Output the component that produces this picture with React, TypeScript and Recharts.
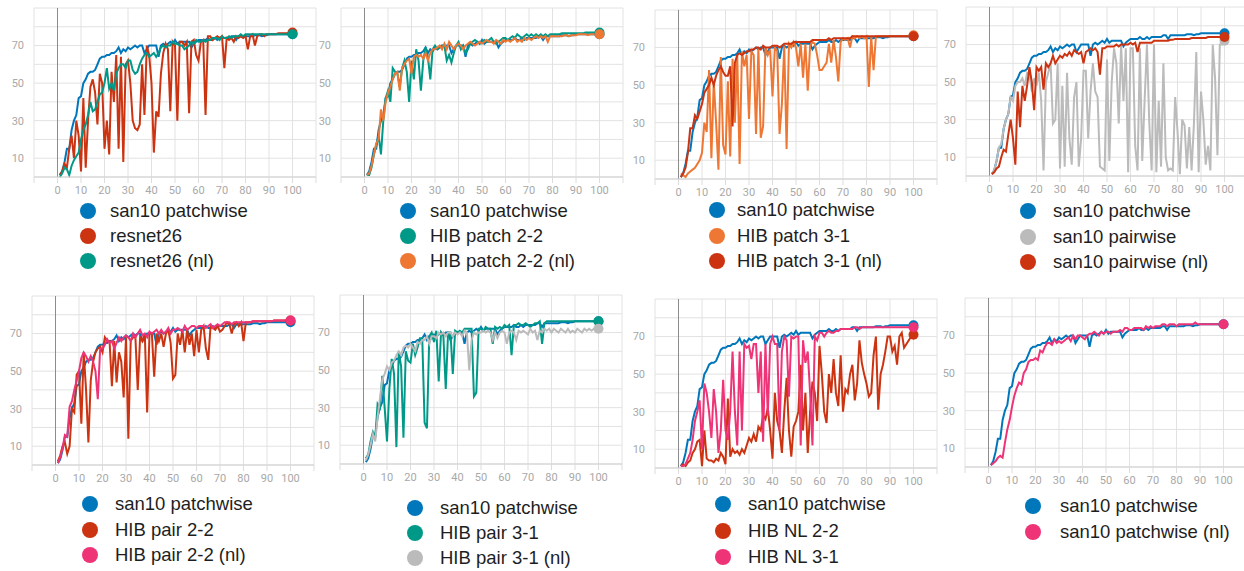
import React from "react";
import { LineChart, Line, XAxis, YAxis, CartesianGrid, ReferenceLine } from "recharts";

// epochs on the x axis
const epochs = [
  1, 2, 3, 4, 5, 6, 7, 8, 9, 10,
  11, 12, 13, 14, 15, 16, 17, 18, 19, 20,
  21, 22, 23, 24, 25, 26, 27, 28, 29, 30,
  31, 32, 33, 34, 35, 36, 37, 38, 39, 40,
  41, 42, 43, 44, 45, 46, 47, 48, 49, 50,
  51, 52, 53, 54, 55, 56, 57, 58, 59, 60,
  61, 62, 63, 64, 65, 66, 67, 68, 69, 70,
  71, 72, 73, 74, 75, 76, 77, 78, 79, 80,
  81, 82, 83, 84, 85, 86, 87, 88, 89, 90,
  91, 92, 93, 94, 95, 96, 97, 98, 99, 100,
];

const xTicks = [-10, 0, 10, 20, 30, 40, 50, 60, 70, 80, 90, 100, 110];
const yTicks = [0, 10, 20, 30, 40, 50, 60, 70, 80, 90];
const yLabels = [10, 30, 50, 70];

// top-1 accuracy per epoch
const san10Patchwise = [
  1, 3, 8, 15, 15, 25, 30, 33, 42, 43,
  50, 52, 55, 56, 56, 57, 60, 63, 64, 64,
  65, 65, 66, 66, 67, 69, 66, 68, 67, 69,
  68, 69, 70, 69, 70, 70, 66, 68, 70, 70,
  70, 70, 64, 70, 71, 70, 71, 72, 71, 73,
  71, 72, 72, 72, 72, 72, 69, 71, 72, 73,
  73, 73, 73, 74, 73, 73, 74, 73, 74, 74,
  74, 74, 74, 75, 75, 73, 75, 75, 75, 75,
  75, 75, 75, 75.5, 75.5, 75.5, 75, 75.5, 75.5, 76,
  76, 76, 76, 76, 76, 76, 76, 76, 76, 76,
];
const san10PatchwiseNl = [
  1, 2, 3, 5, 6, 5, 13, 20, 25, 32,
  38, 42, 45, 44, 50, 52, 56, 57, 57, 58,
  57, 62, 61, 64, 66, 66, 65, 68, 66, 67,
  66, 67, 68, 69, 67, 70, 68, 70, 70, 69,
  68, 70, 71, 71, 72, 71, 70, 72, 71, 72,
  72, 71, 72, 72, 72, 73, 72, 74, 74, 73,
  73, 74, 74, 74, 74, 73, 75, 74, 75, 74,
  75, 75, 75, 76, 76, 75, 76, 76, 76, 75,
  76, 76, 76, 76, 76, 76, 76, 77, 76, 76,
  76, 76, 76, 76, 76, 76, 76, 76, 76, 76,
];
const resnet26 = [
  1, 3, 7, 5, 15, 22, 10, 30, 22, 3,
  42, 5, 30, 48, 52, 45, 28, 55, 50, 15,
  30, 12, 56, 40, 65, 15, 64, 8, 60, 62,
  50, 30, 26, 25, 28, 60, 33, 70, 65, 50,
  13, 35, 32, 55, 66, 71, 68, 35, 72, 70,
  30, 72, 72, 70, 72, 34, 72, 73, 65, 62,
  72, 73, 33, 75, 75, 73, 74, 75, 74, 75,
  58, 74, 73, 74, 72, 75, 74, 75, 74, 75,
  68, 75, 76, 70, 75, 76, 76, 75, 76, 76,
  76, 76, 76, 76.5, 76.5, 76.5, 76.5, 76.5, 77, 77,
];
const resnet26Nl = [
  0, 2, 5, 4, 1, 6, 9, 11, 13, 20,
  25, 28, 33, 40, 35, 36, 40, 44, 45, 50,
  58, 47, 50, 46, 55, 58, 60, 60, 58, 62,
  62, 57, 55, 56, 60, 63, 65, 66, 64, 65,
  66, 64, 66, 69, 70, 69, 70, 70, 72, 71,
  71, 70, 70, 68, 69, 70, 72, 71, 73, 72,
  72, 73, 72, 73, 73, 74, 74, 74, 73, 75,
  74, 74, 75, 74, 75, 75, 75, 76, 75, 76,
  76, 76, 76, 76, 76, 76, 76, 76, 76, 76,
  76, 76, 76, 76, 76, 76, 76, 76, 76, 76,
];
const hibPatch22 = [
  1, 1, 5, 12, 17, 22, 12, 30, 42, 46,
  40, 58, 56, 55, 48, 58, 62, 56, 40, 62,
  52, 68, 62, 46, 62, 69, 64, 52, 68, 70,
  68, 69, 70, 70, 62, 65, 61, 66, 70, 72,
  68, 70, 66, 68, 71, 72, 73, 72, 71, 72,
  73, 72, 73, 74, 72, 71, 72, 73, 74, 74,
  73, 74, 75, 74, 76, 75, 74, 75, 76, 75,
  76, 75, 76, 75, 76, 75, 76, 75, 76, 76,
  76, 76, 76, 76.5, 76.5, 76.5, 76.5, 76.5, 76.5, 76.5,
  76.5, 76.5, 76.5, 77, 77, 77, 77, 77, 77, 77,
];
const hibPatch22Nl = [
  1, 2, 6, 12, 18, 20, 36, 30, 40, 45,
  48, 52, 55, 56, 46, 58, 60, 62, 63, 55,
  64, 65, 64, 65, 63, 66, 62, 66, 68, 68,
  69, 70, 68, 71, 68, 72, 70, 68, 70, 71,
  70, 68, 70, 71, 72, 71, 70, 71, 72, 71,
  72, 73, 72, 72, 71, 73, 72, 71, 73, 72,
  73, 72, 73, 74, 72, 73, 72, 74, 73, 74,
  73, 74, 75, 74, 75, 74, 75, 72, 75, 75,
  75, 75, 75, 75, 75.5, 75.5, 75, 75.5, 75.5, 75.5,
  76, 76, 76, 76, 75.5, 76, 76, 76, 75.5, 76,
];
const hibPatch31 = [
  3, 2, 1, 3, 4, 5, 6, 8, 10, 14,
  30, 25, 58, 11, 52, 30, 5, 65, 18, 13,
  52, 12, 64, 30, 66, 8, 68, 60, 66, 32,
  68, 66, 24, 70, 22, 28, 70, 66, 69, 44,
  70, 68, 24, 40, 71, 16, 72, 70, 73, 70,
  60, 72, 54, 72, 47, 71, 73, 72, 66, 58,
  58, 60, 62, 72, 62, 74, 65, 52, 73, 75,
  74, 75, 70, 76, 75, 76, 75, 76, 75, 76,
  49, 76, 58, 76, 76, 76, 76, 76, 76, 76,
  76, 76, 76, 76, 76, 76, 76, 76, 76, 76.5,
];
const hibPatch31Nl = [
  1, 3, 6, 14, 27, 27, 34, 32, 36, 40,
  46, 48, 50, 54, 50, 55, 58, 60, 57, 55,
  55, 60, 28, 62, 66, 67, 66, 67, 68, 68,
  69, 69, 70, 70, 69, 71, 70, 70, 70, 71,
  71, 71, 70, 71, 72, 72, 72, 72, 73, 73,
  73, 73, 73, 73, 73, 73, 74, 74, 74, 74,
  74, 74, 74, 75, 74, 75, 75, 75, 75, 75,
  75, 75, 75, 76, 76, 76, 76, 76, 76, 76,
  76, 76, 76, 76, 76, 76, 76, 76, 76, 76,
  76, 76, 76, 76, 76, 76, 76, 76, 76, 76,
];
const san10Pairwise = [
  1, 3, 8, 15, 17, 25, 30, 33, 42, 40,
  48, 50, 50, 52, 48, 55, 54, 45, 52, 48,
  55, 40, 3, 50, 55, 60, 28, 30, 60, 4,
  48, 5, 55, 20, 6, 42, 50, 5, 20, 56,
  56, 20, 45, 60, 45, 42, 5, 4, 3, 62,
  8, 50, 68, 60, 28, 70, 40, 68, 2, 68,
  68, 16, 3, 68, 8, 40, 70, 28, 3, 70,
  2, 40, 5, 60, 10, 3, 4, 3, 42, 24,
  1, 30, 27, 4, 26, 3, 28, 66, 2, 45,
  30, 6, 16, 3, 70, 52, 11, 70, 70, 72,
];
const san10PairwiseNl = [
  1, 2, 4, 5, 10, 14, 13, 22, 30, 20,
  6, 45, 26, 48, 40, 48, 58, 50, 35, 58,
  56, 58, 46, 60, 58, 60, 64, 60, 62, 64,
  63, 65, 64, 66, 64, 67, 66, 65, 66, 60,
  66, 67, 68, 67, 68, 66, 54, 68, 68, 69,
  69, 69, 69, 70, 69, 70, 70, 70, 70, 71,
  70, 71, 66, 71, 71, 71, 71, 71, 71, 72,
  72, 72, 72, 72, 72, 72, 72.5, 72.5, 73, 73,
  73, 73, 73, 73, 73, 73.5, 73.5, 73.5, 73.5, 73.5,
  73.5, 73.5, 74, 74, 74, 74, 74, 74, 74, 74,
];
const hibPair22 = [
  2, 5, 10, 12, 6, 10, 30, 28, 48, 50,
  22, 60, 40, 12, 45, 55, 60, 62, 63, 60,
  68, 66, 66, 42, 66, 44, 60, 55, 36, 68,
  14, 66, 68, 68, 40, 68, 66, 70, 28, 70,
  70, 47, 70, 66, 70, 63, 70, 72, 65, 46,
  48, 70, 64, 72, 60, 72, 64, 70, 58, 72,
  60, 72, 74, 62, 56, 74, 73, 72, 74, 71,
  72, 74, 76, 75, 70, 75, 76, 74, 76, 66,
  76, 76, 76, 76.5, 76.5, 76.5, 76.5, 76.5, 76.5, 76.5,
  76.5, 76.5, 77, 77, 77, 77, 77, 77, 77, 77,
];
const hibPair22Nl = [
  1, 4, 9, 16, 15, 31, 34, 40, 45, 50,
  57, 60, 58, 55, 58, 55, 50, 35, 62, 62,
  64, 67, 65, 66, 62, 65, 68, 66, 68, 69,
  68, 66, 70, 68, 70, 72, 69, 70, 68, 71,
  70, 71, 72, 70, 72, 70, 71, 73, 70, 72,
  72, 73, 72, 71, 74, 72, 73, 74, 74, 73,
  74, 74, 74, 73, 74, 75, 73, 74, 75, 74,
  75, 76, 76, 76, 75, 76, 76, 76, 76, 76,
  76, 76, 76, 76.5, 76.5, 76.5, 76.5, 76.5, 76.5, 76.5,
  76.5, 76.5, 77, 77, 77, 77, 77, 77, 77, 77,
];
const hibPair31 = [
  3, 5, 12, 17, 14, 32, 30, 47, 30, 12,
  40, 56, 48, 9, 60, 52, 14, 60, 55, 54,
  64, 58, 62, 67, 67, 22, 19, 68, 70, 65,
  71, 44, 70, 68, 40, 70, 70, 48, 71, 70,
  71, 70, 72, 72, 72, 72, 36, 38, 72, 72,
  71, 73, 72, 72, 64, 73, 72, 73, 72, 74,
  73, 74, 58, 74, 74, 75, 74, 74, 75, 74,
  73, 74, 75, 75, 76, 64, 75, 76, 76, 76,
  76, 76, 76, 76, 76, 76, 76, 76, 76, 76,
  76, 76, 76, 76, 76, 76, 76, 76, 76, 76,
];
const hibPair31Nl = [
  2, 5, 10, 16, 12, 25, 35, 45, 48, 52,
  50, 54, 55, 58, 60, 58, 62, 63, 62, 64,
  62, 60, 65, 64, 66, 66, 68, 64, 68, 68,
  67, 70, 69, 70, 68, 70, 70, 68, 70, 69,
  70, 68, 71, 70, 50, 66, 70, 69, 70, 70,
  71, 70, 71, 70, 66, 70, 67, 70, 71, 70,
  64, 70, 71, 70, 66, 71, 70, 71, 70, 69,
  72, 70, 71, 66, 71, 70, 72, 71, 72, 70,
  72, 71, 70, 72, 71, 70, 72, 70, 71, 70,
  72, 71, 70, 72, 71, 72, 71, 72, 71, 72,
];
const hibNl22 = [
  1, 2, 1, 3, 4, 8, 10, 14, 15, 1,
  20, 5, 4, 4, 3, 5, 4, 8, 6, 2,
  37, 6, 10, 8, 9, 7, 10, 8, 12, 16,
  14, 18, 14, 22, 20, 28, 26, 32, 20, 5,
  40, 25, 20, 8, 30, 48, 20, 6, 22, 25,
  30, 55, 20, 40, 8, 30, 46, 40, 25, 65,
  50, 30, 24, 50, 40, 58, 40, 33, 60, 30,
  42, 40, 50, 55, 36, 45, 68, 56, 50, 45,
  38, 40, 60, 70, 31, 50, 55, 62, 70, 70,
  62, 65, 55, 70, 72, 64, 66, 68, 70, 71,
];
const hibNl31 = [
  1, 1, 2, 5, 8, 15, 25, 30, 36, 10,
  45, 40, 30, 16, 42, 30, 8, 20, 47, 20,
  15, 30, 62, 30, 12, 62, 20, 66, 64, 65,
  58, 66, 66, 40, 62, 14, 66, 28, 66, 70,
  66, 66, 20, 62, 70, 68, 38, 70, 69, 70,
  70, 12, 68, 56, 62, 40, 12, 70, 68, 72,
  72, 70, 72, 73, 72, 72, 73, 73, 74, 74,
  74, 74, 74, 74, 75, 75, 74, 75, 75, 75,
  75, 75, 75, 75, 75, 75, 75, 75, 75, 75,
  75, 75, 75, 75, 75, 75, 75, 75, 75, 75,
];

const BLUE = "#0077bb";
const RED = "#cc3311";
const TEAL = "#009988";
const ORANGE = "#ee7733";
const MAGENTA = "#ee3377";
const GRAY = "#bbbbbb";

type Series = { name: string; color: string; values: number[] };
type Panel = {
  left: number;
  top: number;
  dotX: number;
  textX: number;
  legendY: number;
  step: number;
  series: Series[];
};

const san10: Series = { name: "san10 patchwise", color: BLUE, values: san10Patchwise };

const panels: Panel[] = [
  {
    left: 5.5, top: 2.6, dotX: 88, textX: 110, legendY: 211, step: 25,
    series: [san10, { name: "resnet26", color: RED, values: resnet26 }, { name: "resnet26 (nl)", color: TEAL, values: resnet26Nl }],
  },
  {
    left: 313.4, top: 2.6, dotX: 408, textX: 430, legendY: 211, step: 25,
    series: [san10, { name: "HIB patch 2-2", color: TEAL, values: hibPatch22 }, { name: "HIB patch 2-2 (nl)", color: ORANGE, values: hibPatch22Nl }],
  },
  {
    left: 626.5, top: 4.6, dotX: 717, textX: 737, legendY: 210, step: 25.5,
    series: [san10, { name: "HIB patch 3-1", color: ORANGE, values: hibPatch31 }, { name: "HIB patch 3-1 (nl)", color: RED, values: hibPatch31Nl }],
  },
  {
    left: 937.6, top: 1.6, dotX: 1028, textX: 1053, legendY: 211, step: 25.5,
    series: [san10, { name: "san10 pairwise", color: GRAY, values: san10Pairwise }, { name: "san10 pairwise (nl)", color: RED, values: san10PairwiseNl }],
  },
  {
    left: 3.5, top: 291, dotX: 90, textX: 115, legendY: 504, step: 25.5,
    series: [san10, { name: "HIB pair 2-2", color: RED, values: hibPair22 }, { name: "HIB pair 2-2 (nl)", color: MAGENTA, values: hibPair22Nl }],
  },
  {
    left: 312.4, top: 290, dotX: 415, textX: 440, legendY: 508, step: 25,
    series: [san10, { name: "HIB pair 3-1", color: TEAL, values: hibPair31 }, { name: "HIB pair 3-1 (nl)", color: GRAY, values: hibPair31Nl }],
  },
  {
    left: 626.5, top: 293.6, dotX: 723, textX: 748, legendY: 504, step: 26.5,
    series: [san10, { name: "HIB NL 2-2", color: RED, values: hibNl22 }, { name: "HIB NL 3-1", color: MAGENTA, values: hibNl31 }],
  },
  {
    left: 936.5, top: 293, dotX: 1033, textX: 1060, legendY: 506, step: 26,
    series: [san10, { name: "san10 patchwise (nl)", color: MAGENTA, values: san10PatchwiseNl }],
  },
];

const tickStyle = { fill: "#a8a8a8", fontSize: 11, fontFamily: "Roboto, sans-serif" };

const endDot = (color: string) => (props: any) => {
  const { cx, cy, index } = props;
  if (index !== epochs.length - 1) return <g key={`d${index}`} />;
  return <circle key={`d${index}`} cx={cx} cy={cy} r={5} fill={color} />;
};

const PanelChart = ({ panel }: { panel: Panel }) => {
  const rows = epochs.map((e, i) => {
    const row: Record<string, number> = { epoch: e };
    panel.series.forEach((s, k) => {
      row[`s${k}`] = s.values[i];
    });
    return row;
  });
  return (
    <>
      <div style={{ position: "absolute", left: panel.left, top: panel.top }}>
        <LineChart width={315} height={199} data={rows} margin={{ top: 5, right: 5, left: 0, bottom: 0 }}>
          <CartesianGrid stroke="#e2e2e2" />
          <XAxis
            dataKey="epoch"
            type="number"
            domain={[-10, 110]}
            ticks={xTicks}
            interval={0}
            height={25}
            tickSize={6}
            tickMargin={3}
            tick={tickStyle}
            axisLine={{ stroke: "#cfcfcf" }}
            tickLine={{ stroke: "#dcdcdc" }}
            tickFormatter={(v: number) => (v < 0 || v > 100 ? "" : String(v))}
          />
          <YAxis
            type="number"
            domain={[0, 90]}
            ticks={yTicks}
            interval={0}
            width={28}
            tickSize={6}
            tickMargin={4}
            axisLine={false}
            tickLine={false}
            tick={tickStyle}
            tickFormatter={(v: number) => (yLabels.includes(v) ? String(v) : "")}
          />
          <ReferenceLine x={0} stroke="#8c8c8c" />
          {panel.series.map((s, k) => (
            <Line
              key={s.name}
              type="linear"
              dataKey={`s${k}`}
              stroke={s.color}
              strokeWidth={2}
              dot={endDot(s.color)}
              activeDot={false}
              isAnimationActive={false}
            />
          ))}
        </LineChart>
      </div>
      {panel.series.map((s, k) => {
        const cy = panel.legendY + k * panel.step;
        return (
          <React.Fragment key={s.name}>
            <div
              style={{
                position: "absolute",
                left: panel.dotX - 8,
                top: cy - 8,
                width: 16,
                height: 16,
                borderRadius: 8,
                background: s.color,
              }}
            />
            <div
              style={{
                position: "absolute",
                left: panel.textX,
                top: cy - 11,
                height: 22,
                lineHeight: "22px",
                fontSize: 18.5,
                fontFamily: "'Liberation Sans', Arial, sans-serif",
                color: "#1e1e1e",
                whiteSpace: "nowrap",
              }}
            >
              {s.name}
            </div>
          </React.Fragment>
        );
      })}
    </>
  );
};

export default function App() {
  return (
    <div style={{ position: "absolute", left: 0, top: 0, width: 1244, height: 571, background: "#fff", overflow: "hidden" }}>
      {panels.map((p, i) => (
        <PanelChart key={i} panel={p} />
      ))}
    </div>
  );
}
